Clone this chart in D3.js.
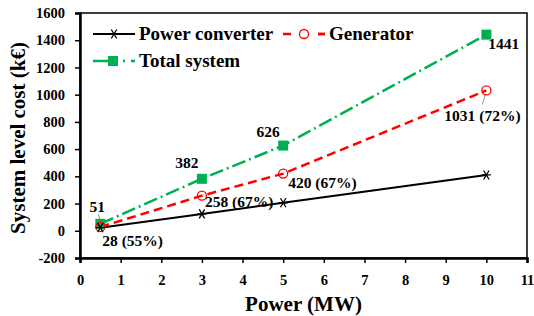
<!DOCTYPE html>
<html><head><meta charset="utf-8">
<script src="https://cdn.jsdelivr.net/npm/d3@7"></script>
<style>body{margin:0;background:#fff}svg{display:block}text{font-family:"Liberation Serif","Times New Roman",serif;font-weight:bold}</style>
</head><body><svg id="c" width="534" height="316"></svg>
<script>
const powers = [0.5, 3, 5, 10];
const powerConverter = [23, 124, 206, 410];
const generator = [28, 258, 420, 1031];
const totalSystem = [51, 382, 626, 1441];
const generatorLabels = ["28 (55%)", "258 (67%)", "420 (67%)", "1031 (72%)"];
const totalLabels = ["51", "382", "626", "1441"];
const xTicks = [0,1,2,3,4,5,6,7,8,9,10,11];
const yTicks = [-200,0,200,400,600,800,1000,1200,1400,1600];
const seriesNames = ["Power converter", "Generator", "Total system"];

const svg = d3.select("#c");
const L = 80, R = 527, T = 13, B = 258;
const x = d3.scaleLinear().domain([0, 11]).range([L, R]);
const y = d3.scaleLinear().domain([-200, 1600]).range([B, T]);

svg.append("rect").attr("x", L).attr("y", T).attr("width", R - L).attr("height", B - T)
  .attr("fill", "none").attr("stroke", "#000").attr("stroke-width", 1.5);

const xa = svg.append("g").attr("transform", `translate(0,${B})`)
  .call(d3.axisBottom(x).tickValues(xTicks).tickSize(5).tickPadding(12).tickFormat(d => String(d)));
const ya = svg.append("g").attr("transform", `translate(${L},0)`)
  .call(d3.axisLeft(y).tickValues(yTicks).tickSize(5).tickPadding(10).tickFormat(d => String(d)));
[xa, ya].forEach(a => {
  a.attr("font-family", null).attr("font-size", null);
  a.select(".domain").attr("stroke-width", 2.5);
  a.selectAll(".tick line").attr("stroke-width", 1.5);
  a.selectAll("text").attr("font-size", 14.5).attr("fill", "#000");
});

svg.append("text").attr("x", (L + R) / 2).attr("y", 311).attr("text-anchor", "middle")
  .attr("font-size", 21).text("Power (MW)");
svg.append("text").attr("transform", "translate(25,138) rotate(-90)").attr("text-anchor", "middle")
  .attr("font-size", 21).text("System level cost (k€)");

const styles = [
  {color: "#000", dash: null, w: 2},
  {color: "#ff0000", dash: "9,5", w: 2.5},
  {color: "#00b050", dash: "14,4,2,4", w: 2.5}
];
const data = [powerConverter, generator, totalSystem];
const line = d3.line().x((d, i) => x(powers[i])).y(d => y(d));

function marker(g, k, cx, cy) {
  if (k === 0) {
    const s = 4.5;
    g.append("path").attr("d", `M${cx-s},${cy}H${cx+s}M${cx-s*0.6},${cy-s}L${cx+s*0.6},${cy+s}M${cx+s*0.6},${cy-s}L${cx-s*0.6},${cy+s}`)
      .attr("stroke", "#000").attr("stroke-width", 1.3).attr("fill", "none");
  } else if (k === 1) {
    g.append("circle").attr("cx", cx).attr("cy", cy).attr("r", 4.5)
      .attr("fill", "none").attr("stroke", "#ff0000").attr("stroke-width", 1.3);
  } else {
    g.append("rect").attr("x", cx - 5).attr("y", cy - 5).attr("width", 10).attr("height", 10)
      .attr("fill", "#00b050");
  }
}

data.forEach((vals, k) => {
  svg.append("path").datum(vals).attr("d", line).attr("fill", "none")
    .attr("stroke", styles[k].color).attr("stroke-width", styles[k].w)
    .attr("stroke-dasharray", styles[k].dash);
});
const lg = svg.append("g").attr("stroke", "#999").attr("stroke-width", 1);
lg.append("line").attr("x1", x(powers[0]) - 2).attr("y1", y(totalSystem[0]) - 10)
  .attr("x2", x(powers[0])).attr("y2", y(totalSystem[0]) - 3);
lg.append("line").attr("x1", x(powers[3]) - 4).attr("y1", y(generator[3]) + 14)
  .attr("x2", x(powers[3]) - 1).attr("y2", y(generator[3]) + 4);

[2, 1, 0].forEach(k => {
  const g = svg.append("g");
  data[k].forEach((v, i) => marker(g, k, x(powers[i]), y(v)));
});

const totalOff = [[-3, -12, "middle"], [-15, -11, "middle"], [-15, -9, "middle"], [2, 14, "start"]];
const genOff = [[2, 19, "start"], [3, 11, "start"], [5, 14, "start"], [-42, 31, "start"]];
totalLabels.forEach((t, i) => svg.append("text").attr("x", x(powers[i]) + totalOff[i][0])
  .attr("y", y(totalSystem[i]) + totalOff[i][1]).attr("text-anchor", totalOff[i][2])
  .attr("font-size", 15.5).text(t));
generatorLabels.forEach((t, i) => svg.append("text").attr("x", x(powers[i]) + genOff[i][0])
  .attr("y", y(generator[i]) + genOff[i][1]).attr("text-anchor", genOff[i][2])
  .attr("font-size", 15.5).text(t));

const legPos = [[93, 34], [283, 34], [93, 61]];
legPos.forEach(([lx, ly], k) => {
  const g = svg.append("g");
  g.append("line").attr("x1", lx).attr("x2", lx + 42).attr("y1", ly).attr("y2", ly)
    .attr("stroke", styles[k].color).attr("stroke-width", styles[k].w)
    .attr("stroke-dasharray", k === 1 ? "8,27" : (k === 2 ? "17,5,2,6,2,6" : null));
  if (k === 1) g.append("line").attr("x1", lx + 35).attr("x2", lx + 42).attr("y1", ly).attr("y2", ly)
    .attr("stroke", styles[k].color).attr("stroke-width", styles[k].w);
  marker(g, k, lx + (k === 2 ? 20 : 21), ly);
  g.append("text").attr("x", lx + 46).attr("y", ly + 6).attr("font-size", 19).text(seriesNames[k]);
});
</script></body></html>
